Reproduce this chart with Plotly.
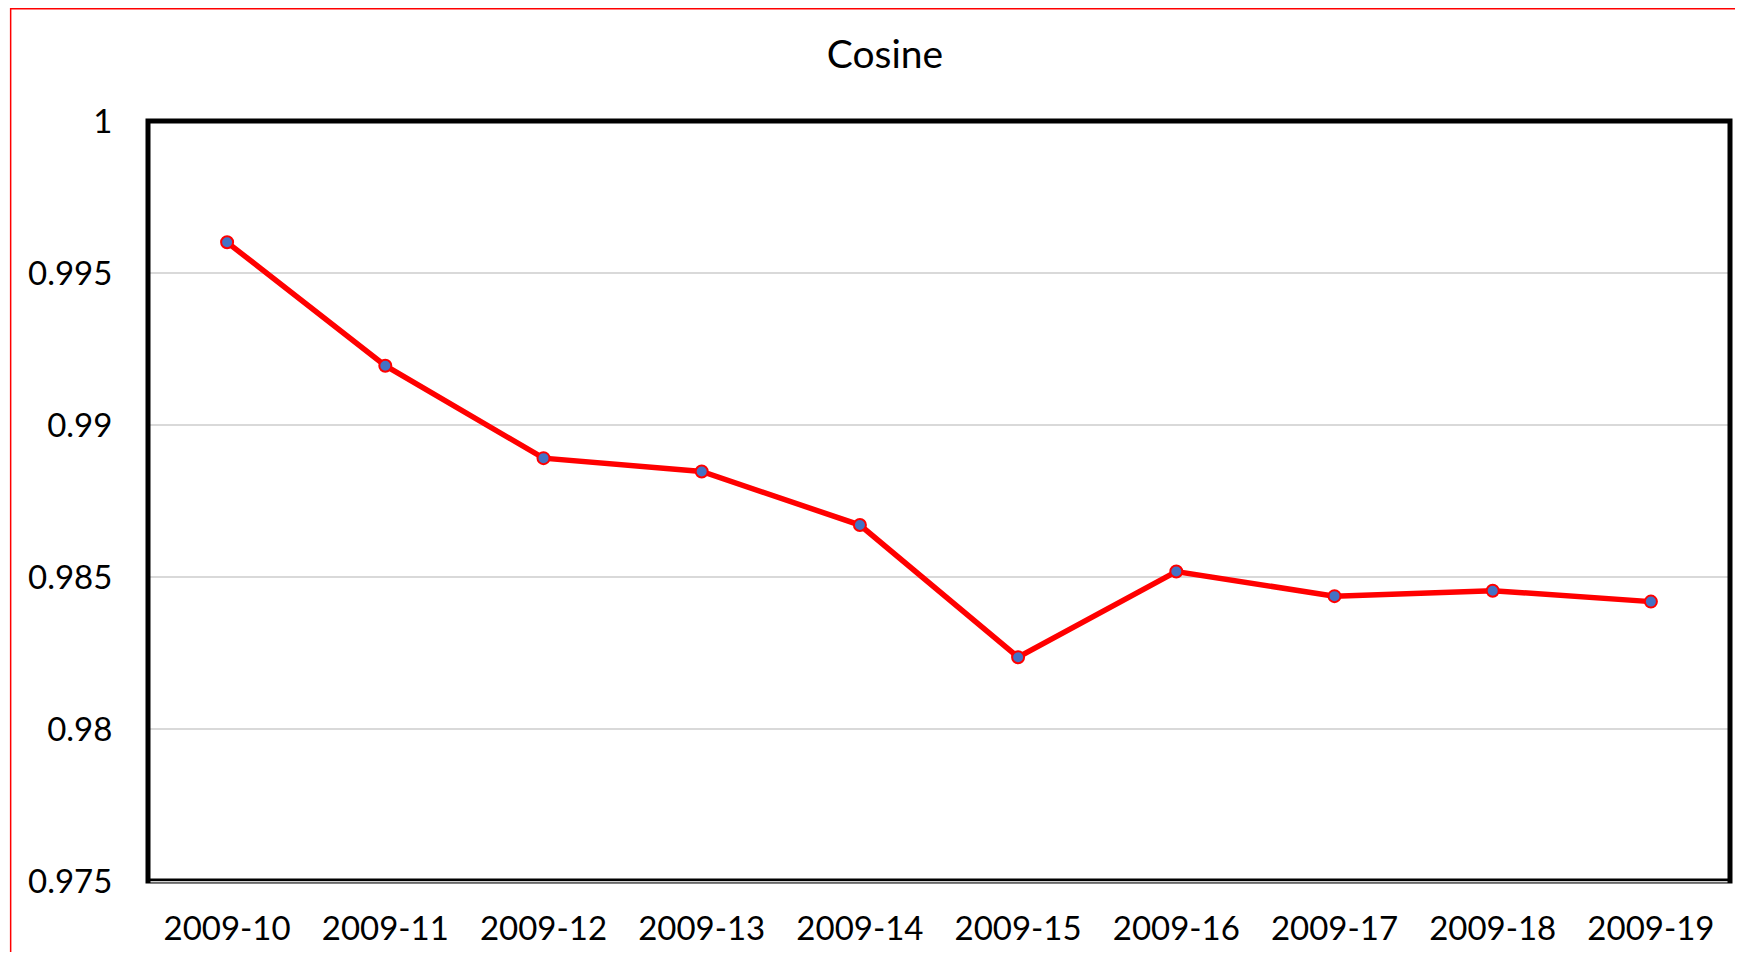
import plotly.graph_objects as go

categories = ["2009-10", "2009-11", "2009-12", "2009-13", "2009-14",
              "2009-15", "2009-16", "2009-17", "2009-18", "2009-19"]
cosine = [0.99601, 0.99195, 0.98891, 0.98847, 0.98671,
          0.98236, 0.98518, 0.98437, 0.98455, 0.98419]
y_ticks = [0.975, 0.98, 0.985, 0.99, 0.995, 1]
y_ticktext = ["0.975", "0.98", "0.985", "0.99", "0.995", "1"]

# page has an 8px body margin; figure sized to fit inside the 1743x960 window
OFF = 8
W, H = 1743 - 2 * OFF, 944
# plot area (frame line centres) in page pixels
PX0, PX1, PY0, PY1 = 147.8, 1735.0, 121.0, 881.5
L, T = PX0 - OFF, PY0 - OFF
R, B = W - (PX1 - OFF), H - (PY1 - OFF)
pw, ph = W - L - R, H - T - B

def paper_x(page_px):
    return (page_px - OFF - L) / pw

def paper_y(page_py):
    return (H - B - (page_py - OFF)) / ph

FONT = "Lato, Open Sans, sans-serif"

fig = go.Figure()
fig.add_trace(go.Scatter(
    x=categories, y=cosine, mode="lines+markers",
    line=dict(color="#FF0000", width=5.5),
    marker=dict(color="#4472C4", size=12, line=dict(color="#FF0000", width=2)),
    showlegend=False,
))

fig.update_layout(
    width=W, height=H,
    margin=dict(l=L, r=R, t=T, b=B),
    paper_bgcolor="white", plot_bgcolor="white",
    title=dict(text="Cosine", x=(885 - OFF) / W, xanchor="center",
               y=1 - (54.5 - OFF) / H, yanchor="middle",
               font=dict(family=FONT, size=39, color="black")),
    font=dict(family=FONT, size=33, color="black"),
)
fig.update_xaxes(
    type="category", range=[-0.5, 9.5],
    showline=True, linecolor="rgba(0,0,0,0)", linewidth=5, mirror=True,
    showgrid=False, ticks="", ticklabelstandoff=14,
    tickfont=dict(family=FONT, size=33, color="black"),
)
fig.update_yaxes(
    range=[0.975, 1], tickvals=y_ticks, ticktext=y_ticktext,
    showline=True, linecolor="rgba(0,0,0,0)", linewidth=5, mirror=True,
    showgrid=True, gridcolor="#D9D9D9", gridwidth=1.5,
    zeroline=False, ticks="", ticklabelstandoff=24,
    tickfont=dict(family=FONT, size=33, color="black"),
)

# outer red frame of the chart
fig.add_shape(type="rect", xref="paper", yref="paper",
              x0=paper_x(10), x1=paper_x(1743 + 30),
              y0=paper_y(960 + 30), y1=paper_y(OFF + 0.75),
              line=dict(color="#FF0000", width=1.5), layer="below")
# black plot-area frame
fig.add_shape(type="rect", xref="paper", yref="paper",
              x0=0, x1=1, y0=0, y1=1,
              line=dict(color="black", width=5), layer="above")
# light stripe inside the bottom frame line
fig.add_shape(type="line", xref="paper", yref="paper",
              x0=paper_x(PX0 + 2.5), x1=paper_x(PX1 - 2.5),
              y0=paper_y(PY1 + 0.8), y1=paper_y(PY1 + 0.8),
              line=dict(color="#D0D0D0", width=1.5), layer="above")

fig.write_html("out.html")
